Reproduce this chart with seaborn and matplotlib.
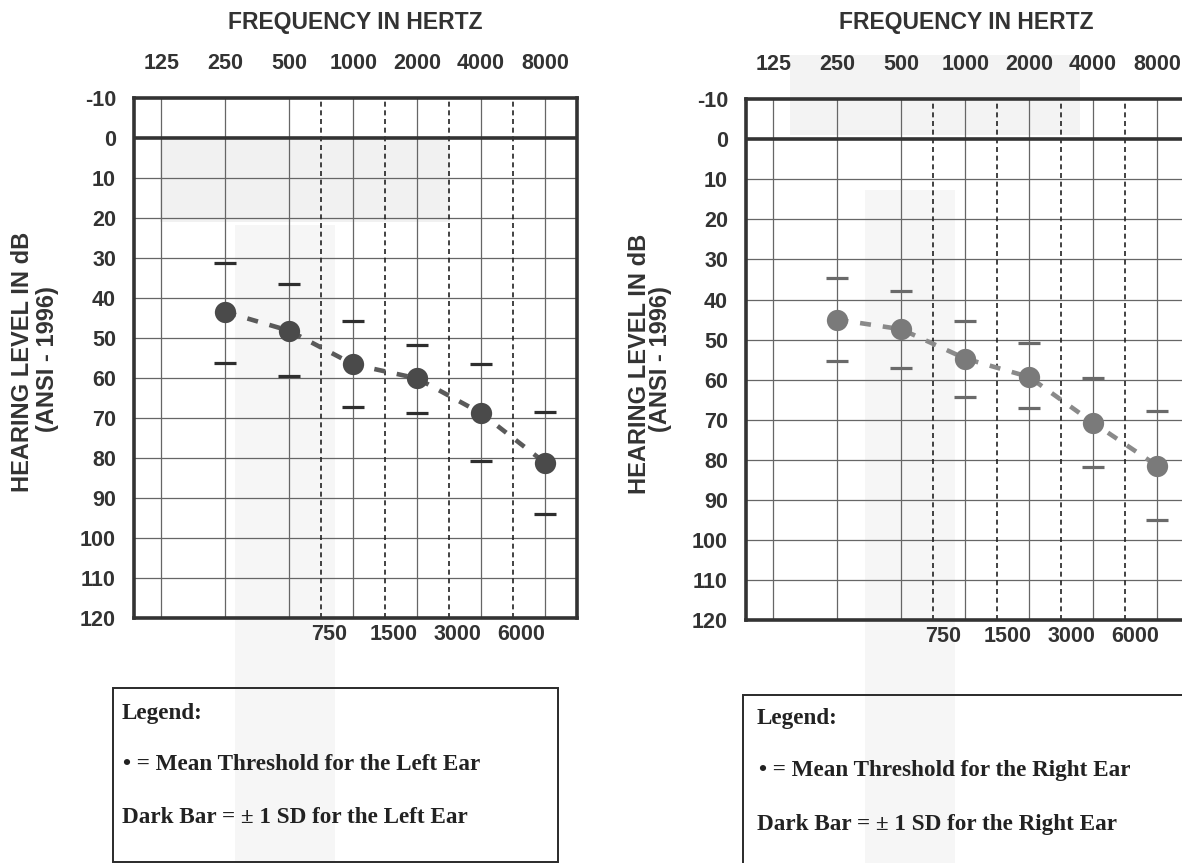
import matplotlib
matplotlib.use("Agg")
import matplotlib.pyplot as plt
import matplotlib.transforms as mtransforms
from matplotlib.patches import Rectangle
import seaborn as sns
import pandas as pd

# audiogram frequencies (octaves on top, half octaves on the bottom)
freq_labels = ["125", "250", "500", "1000", "2000", "4000", "8000"]
mid_labels = ["750", "1500", "3000", "6000"]
test_freqs = ["250", "500", "1000", "2000", "4000", "8000"]
db_ticks = list(range(-10, 121, 10))

# left ear: mean threshold and +/- 1 SD bars (dB HL)
left_mean = [43.5, 48.2, 56.6, 60.1, 68.8, 81.2]
left_upper = [31.3, 36.5, 45.8, 51.8, 56.6, 68.4]
left_lower = [56.2, 59.4, 67.3, 68.8, 80.8, 93.9]

# right ear
right_mean = [45.0, 47.4, 54.7, 59.3, 70.7, 81.4]
right_upper = [34.7, 37.9, 45.3, 50.7, 59.5, 67.8]
right_lower = [55.4, 57.1, 64.3, 67.1, 81.7, 94.9]

sns.set_theme(style="white")
plt.rcParams["font.family"] = ["Liberation Sans", "DejaVu Sans"]

W, H = 1182, 863
fig = plt.figure(figsize=(W / 100, H / 100), dpi=100)


def px(x, y):
    # pixel position -> figure fraction
    return x / W, 1 - y / H


# faint scan shading behind the charts
for (x0, y0, x1, y1, c) in [(160, 140, 450, 222, "#f1f1f1"), (235, 225, 335, 863, "#f6f6f6"),
                            (790, 55, 1080, 135, "#f3f3f3"), (865, 190, 955, 863, "#f6f6f6")]:
    fig.add_artist(Rectangle(px(x0, y1), (x1 - x0) / W, (y1 - y0) / H,
                             transform=fig.transFigure, color=c, zorder=-5, lw=0))


def draw_audiogram(ax, mean, upper, lower, dot_color, bar_color, line_color, label_shift):
    df = pd.DataFrame({
        "pos": [freq_labels.index(f) for f in test_freqs],
        "mean": mean, "upper": upper, "lower": lower,
    })
    ax.set_facecolor("none")
    ax.set_xlim(-0.43, 6.5)
    ax.set_ylim(120, -10)

    # grid
    for y in db_ticks[2:-1]:
        ax.axhline(y, color="#666666", lw=0.9, zorder=1)
    ax.axhline(0, color="#333333", lw=2.6, zorder=2)
    for i in range(len(freq_labels)):
        ax.axvline(i, color="#666666", lw=0.9, zorder=1)
    for i in range(len(mid_labels)):
        ax.axvline(i + 2.5, color="#222222", lw=1.2, ls=(0, (3, 2.2)), zorder=1)

    # mean threshold line + dots, SD bars
    sns.lineplot(data=df, x="pos", y="mean", ax=ax, color=line_color, lw=3.3,
                 linestyle=(0, (2.4, 2.6)), sort=False, zorder=3)
    sns.scatterplot(data=df, x="pos", y="upper", ax=ax, marker="_", s=230,
                    color=bar_color, linewidth=2.3, zorder=4)
    sns.scatterplot(data=df, x="pos", y="lower", ax=ax, marker="_", s=230,
                    color=bar_color, linewidth=2.3, zorder=4)
    sns.scatterplot(data=df, x="pos", y="mean", ax=ax, s=235, color=dot_color,
                    linewidth=0, zorder=5)

    for sp in ax.spines.values():
        sp.set_linewidth(2.6)
        sp.set_color("#333333")
        sp.set_visible(True)

    ax.set_xlabel("")
    ax.set_ylabel("")
    ax.set_yticks(db_ticks, [str(v) for v in db_ticks])
    ax.tick_params(axis="y", length=0, pad=13, labelsize=15.5, labelcolor="#333333")
    for t in ax.get_yticklabels():
        t.set_fontweight("bold")

    ax.set_xticks(range(len(freq_labels)), freq_labels)
    ax.xaxis.set_ticks_position("top")
    ax.tick_params(axis="x", length=0, pad=17, labelsize=15.5, labelcolor="#333333",
                   top=True, bottom=False, labeltop=True, labelbottom=False)
    for t in ax.get_xticklabels():
        t.set_fontweight("bold")

    sec = ax.secondary_xaxis("bottom")
    sec.set_xticks([i + 2.5 for i in range(len(mid_labels))], mid_labels)
    sec.tick_params(length=0, pad=4, labelsize=15.5, labelcolor="#333333")
    sec.spines["bottom"].set_visible(False)
    shift = mtransforms.ScaledTranslation(label_shift / 100, 0, fig.dpi_scale_trans)
    for t in sec.get_xticklabels():
        t.set_fontweight("bold")
        t.set_transform(t.get_transform() + shift)


# left panel
axL = fig.add_axes([134 / W, 1 - 618 / H, 443 / W, 520 / H])
draw_audiogram(axL, left_mean, left_upper, left_lower,
               "#4a4a4a", "#2e2e2e", "#5a5a5a", 8)
# right panel (cut off by the scan edge)
axR = fig.add_axes([746 / W, 1 - 620.5 / H, 443 / W, 521.5 / H])
draw_audiogram(axR, right_mean, right_upper, right_lower,
               "#7a7a7a", "#6a6a6a", "#8a8a8a", 10)

# titles and axis labels
bold = dict(fontweight="bold", color="#333333", ha="center", va="center")
fig.text(*px(355, 22), "FREQUENCY IN HERTZ", fontsize=16.5, **bold)
fig.text(*px(966, 22), "FREQUENCY IN HERTZ", fontsize=16.5, **bold)
fig.text(*px(23, 362), "HEARING LEVEL IN dB", fontsize=17, rotation=90, **bold)
fig.text(*px(48, 359), "(ANSI - 1996)", fontsize=17, rotation=90, **bold)
fig.text(*px(639, 364), "HEARING LEVEL IN dB", fontsize=17, rotation=90, **bold)
fig.text(*px(660, 359), "(ANSI - 1996)", fontsize=17, rotation=90, **bold)

# legend boxes
serif = dict(family=["Liberation Serif", "DejaVu Serif"], fontweight="bold",
             color="#222222", ha="left", va="center", fontsize=16.7)
fig.add_artist(Rectangle(px(113, 862), 445 / W, 174 / H, transform=fig.transFigure,
                         fill=False, lw=1.4, ec="#2a2a2a"))
fig.text(*px(122, 713), "Legend:", **serif)
fig.text(*px(123, 764), "\u2022 = Mean Threshold for the Left Ear", **serif)
fig.text(*px(122, 817), "Dark Bar = \u00b1 1 SD for the Left Ear", **serif)

fig.add_artist(Rectangle(px(743, 875), 460 / W, 180 / H, transform=fig.transFigure,
                         fill=False, lw=1.4, ec="#2a2a2a"))
fig.text(*px(757, 718), "Legend:", **serif)
fig.text(*px(759, 770), "\u2022 = Mean Threshold for the Right Ear", **serif)
fig.text(*px(757, 824), "Dark Bar = \u00b1 1 SD for the Right Ear", **serif)

fig.savefig("out.png", dpi=100)
